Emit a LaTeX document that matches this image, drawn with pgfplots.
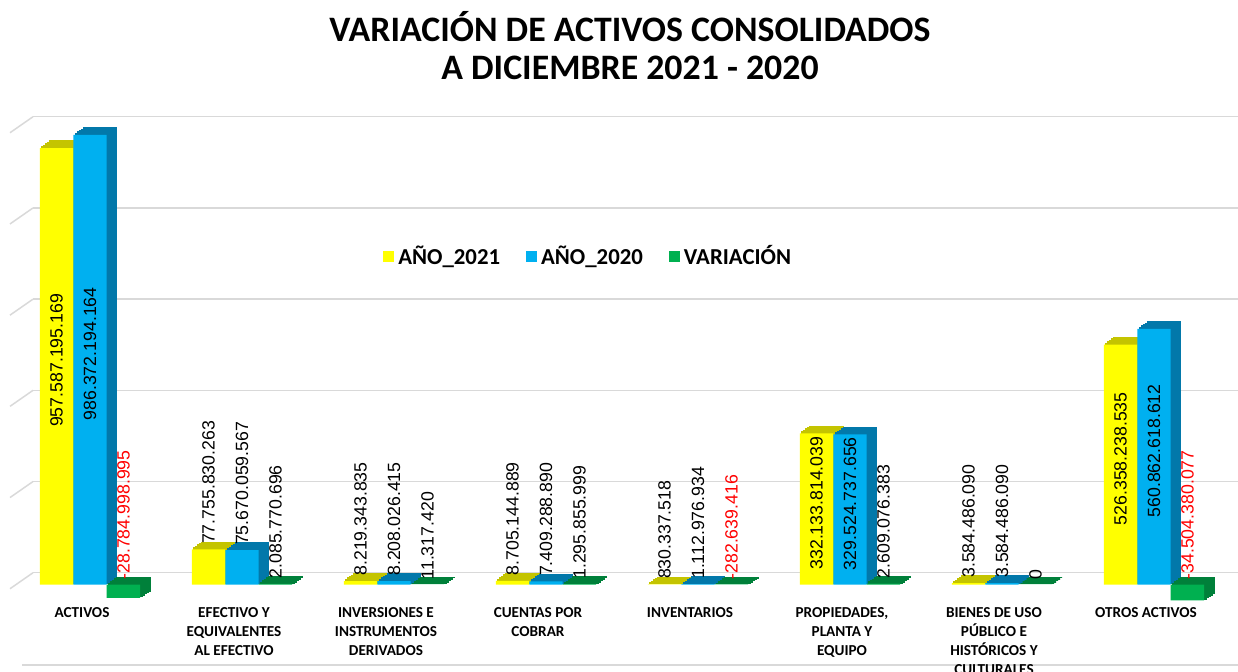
\documentclass[border=0pt]{standalone}
\usepackage{pgfplots}
\usepackage{pgfplotstable}
\pgfplotsset{compat=1.18}
\usepackage{fontspec}
\setmainfont{Carlito}
\newfontfamily\cifras{Liberation Sans}

\definecolor{amarillo}{HTML}{FFFF00}
\definecolor{amarilloOsc}{HTML}{C4C400}
\definecolor{azul}{HTML}{00B0F0}
\definecolor{azulOsc}{HTML}{0278AA}
\definecolor{verde}{HTML}{00B050}
\definecolor{verdeOsc}{HTML}{00803A}
\definecolor{rejilla}{HTML}{D9D9D9}

% valores en miles de millones de pesos; lbl = rotulo completo
\pgfplotstableread{
x y lbl
0 957.587195169 957.587.195.169
1 77.755830263 77.755.830.263
2 8.219343835 8.219.343.835
3 8.705144889 8.705.144.889
4 0.830337518 830.337.518
5 332.133814039 332.133.814.039
6 3.584486090 3.584.486.090
7 526.358238535 526.358.238.535
}\anioveintiuno

\pgfplotstableread{
x y lbl
0 986.372194164 986.372.194.164
1 75.670059567 75.670.059.567
2 8.208026415 8.208.026.415
3 7.409288890 7.409.288.890
4 1.112976934 1.112.976.934
5 329.524737656 329.524.737.656
6 3.584486090 3.584.486.090
7 560.862618612 560.862.618.612
}\anioveinte

\pgfplotstableread{
x y lbl
0 -28.784998995 -28.784.998.995
1 2.085770696 2.085.770.696
2 0.011317420 11.317.420
3 1.295855999 1.295.855.999
4 -0.282639416 -282.639.416
5 2.609076383 2.609.076.383
6 0 0
7 -34.504380077 -34.504.380.077
}\variacion

\tikzset{
  rotulo/.style={
    /utils/exec={%
      \dimen0=\rawy pt\relax
      \def\lblcolor{black}\def\lblanchor{west}%
      \ifdim\dimen0>300pt
        \def\lblanchor{center}\dimen2=-0.114\dimen0 \advance\dimen2 by 3pt
      \else\ifdim\dimen0<0pt
        \def\lblcolor{red}\dimen2=-0.228\dimen0 \advance\dimen2 by 2.5pt
      \else
        \dimen2=2.5pt
      \fi\fi
      \edef\lblshift{\the\dimen2}},
    yshift=\lblshift, rotate=90, anchor=\lblanchor, text=\lblcolor,
    inner sep=0pt, font=\cifras\fontsize{8.85}{10}\selectfont},
}
\pgfplotsset{cara/.style={forget plot, fill=#1, draw=#1, line width=0.75pt}}

% caras superior y lateral: copias desplazadas hacia el fondo
\newcommand\fondo[3]{%
  \addplot[cara=#3, bar shift=#2, xshift=5pt, yshift=3.5pt] table[x=x,y=y]{#1};
  \addplot[cara=#3, bar shift=#2, xshift=4pt, yshift=2.8pt] table[x=x,y=y]{#1};
  \addplot[cara=#3, bar shift=#2, xshift=3pt, yshift=2.1pt] table[x=x,y=y]{#1};
  \addplot[cara=#3, bar shift=#2, xshift=2pt, yshift=1.4pt] table[x=x,y=y]{#1};
  \addplot[cara=#3, bar shift=#2, xshift=1pt, yshift=0.7pt] table[x=x,y=y]{#1};
}
\newcommand\frente[3]{%
  \addplot[fill=#3, draw=none, bar shift=#2, nodes near coords,
    point meta=explicit symbolic, visualization depends on=rawy\as\rawy,
    every node near coord/.append style={rotulo}]
    table[x=x,y=y,meta=lbl]{#1};
}

\begin{document}
\begin{tikzpicture}
\useasboundingbox (0,0) rectangle (619pt,336pt);
\draw[rejilla, line width=0.75pt] (11pt,3.5pt) -- (619pt,3.5pt);
\node[font=\fontsize{17.9}{21}\selectfont\bfseries, anchor=base] at (315pt,315pt) {VARIACIÓN DE ACTIVOS CONSOLIDADOS};
\node[font=\fontsize{17.9}{21}\selectfont\bfseries, anchor=base] at (315pt,296pt) {A DICIEMBRE 2021 - 2020};
\begin{axis}[
  at={(7pt,34.5pt)}, anchor=south west,
  x=76pt, y=0.228pt,
  xmin=-0.5, xmax=7.5, ymin=-40, ymax=1010,
  clip=false,
  ybar, bar width=0.22,
  axis line style={draw=none},
  major tick length=0pt,
  ytick={0,200,...,1000}, yticklabels={},
  ymajorgrids,
  grid style={draw=rejilla, line width=0.75pt, xshift=9.5pt, yshift=6pt},
  xtick={0,...,7},
  xticklabels={ACTIVOS, {EFECTIVO Y\\EQUIVALENTES\\AL EFECTIVO},
    {INVERSIONES E\\INSTRUMENTOS\\DERIVADOS}, {CUENTAS POR\\COBRAR},
    INVENTARIOS, {PROPIEDADES,\\PLANTA Y\\EQUIPO},
    {BIENES DE USO\\PÚBLICO E\\HISTÓRICOS Y\\CULTURALES}, OTROS ACTIVOS},
  xticklabel style={align=center, inner sep=0pt, yshift=-2pt, xshift=-4pt,
    font=\fontsize{7.6}{9.5}\selectfont\bfseries},
  legend columns=3,
  legend style={draw=none, fill=none, at={(0.473,0.723)}, anchor=center,
    font=\fontsize{11.4}{13}\selectfont\bfseries,
    /tikz/every even column/.append style={column sep=11pt}},
  legend image code/.code={\draw[#1, draw=none] (0pt,-2.75pt) rectangle (5.5pt,2.75pt);},
]
\pgfplotsinvokeforeach{0,200,400,600,800,1000}{
  \draw[rejilla, line width=0.75pt] ([xshift=-2pt,yshift=-2pt]axis cs:-0.5,#1)
    -- ([xshift=9.5pt,yshift=6pt]axis cs:-0.5,#1);
}
\fondo{\anioveintiuno}{-0.22}{amarilloOsc}
\frente{\anioveintiuno}{-0.22}{amarillo}
\fondo{\anioveinte}{0}{azulOsc}
\frente{\anioveinte}{0}{azul}
\fondo{\variacion}{0.22}{verdeOsc}
\frente{\variacion}{0.22}{verde}
\legend{AÑO\_2021, AÑO\_2020, VARIACIÓN}
\end{axis}
\end{tikzpicture}
\end{document}
